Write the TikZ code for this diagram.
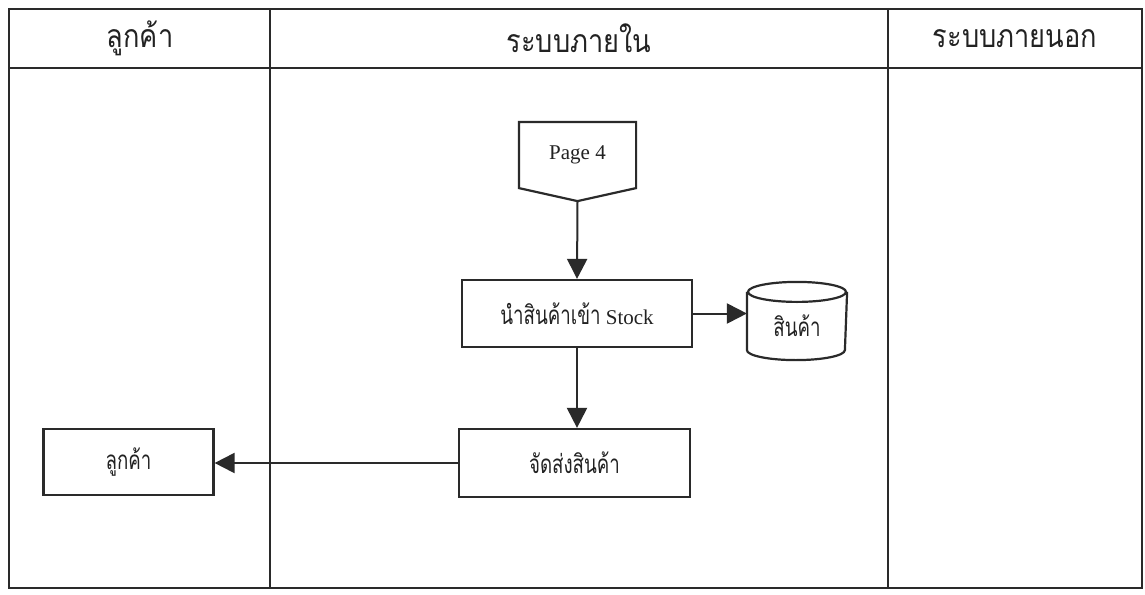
\documentclass[tikz,border=0pt]{standalone}
\usepackage{fontspec}
\setmainfont{Liberation Serif}
\newfontfamily\thaihead[Script=Thai,FakeStretch=0.85]{Loma}
\newfontfamily\thaibox[Script=Thai,FakeStretch=0.72]{Loma}
\usetikzlibrary{arrows.meta,calc}
\definecolor{linecol}{HTML}{2A2A2A}
\definecolor{inkcol}{HTML}{222222}
\newcommand\thtxt[1]{{\fontsize{26}{30}\selectfont\thaibox #1}}
\tikzset{
  lane/.style={draw=linecol, line width=2pt},
  shapeline/.style={draw=linecol, line width=2.2pt},
  procbox/.style={shapeline, rectangle, inner sep=0pt, text=inkcol,
    font=\fontsize{21}{24}\selectfont},
  flow/.style={draw=linecol, line width=2pt, -{Triangle[length=20pt,width=20pt]}},
  headtext/.style={text=inkcol, font=\fontsize{32}{36}\selectfont\thaihead},
}
\begin{document}
\begin{tikzpicture}[x=1pt,y=-1pt]
\useasboundingbox (0,0) rectangle (1145,594);
\fill[white] (0,0) rectangle (1145,594);

% swimlane frame
\draw[lane] (9,9) rectangle (1142,588);
\draw[lane] (9,68) -- (1142,68);
\draw[lane] (270,9) -- (270,588);
\draw[lane] (888,9) -- (888,588);

% lane headings
\node[headtext] (hcust) at (140,38) {ลูกค้า};
\node[headtext] (hin)   at (579,38) {ระบบภายใน};
\node[headtext] (hout)  at (1015,39) {ระบบภายนอก};

% off-page connector
\node[procbox, draw=none, minimum width=115pt, minimum height=64pt] (pg) at (577.5,155) {Page 4};
\draw[shapeline] (pg.north west) -- (pg.north east) -- (pg.south east)
  -- ($(pg.south)+(0,13)$) -- (pg.south west) -- cycle;
\coordinate (pgtip) at ($(pg.south)+(0,13)$);

% process steps
\node[procbox, minimum width=230pt, minimum height=67pt] (stock) at (577,313.5)
  {\thtxt{นำสินค้าเข้า} Stock};
\node[procbox, minimum width=231pt, minimum height=68pt] (ship) at (574.5,463)
  {\thtxt{จัดส่งสินค้า}};
\node[procbox, minimum width=170pt, minimum height=66pt] (cust) at (128.5,462)
  {\thtxt{ลูกค้า}};

% data store
\node[procbox, draw=none, minimum width=98pt, minimum height=66pt] (db) at (797,326)
  {\thtxt{สินค้า}};
\draw[shapeline] (db.north west) -- ($(db.south west)+(0,-10)$)
  arc[start angle=180, end angle=0, x radius=49, y radius=10] -- (db.north east);
\draw[shapeline] (db.north) ellipse[x radius=49, y radius=10];

% connectors
\draw[flow] (pgtip) -- (stock.north);
\draw[flow] (stock.east) -- (stock.east -| db.west);
\draw[flow] (stock.south) -- (stock.south |- ship.north);
\draw[flow] (ship.west) -- (ship.west -| cust.east);
\end{tikzpicture}
\end{document}
